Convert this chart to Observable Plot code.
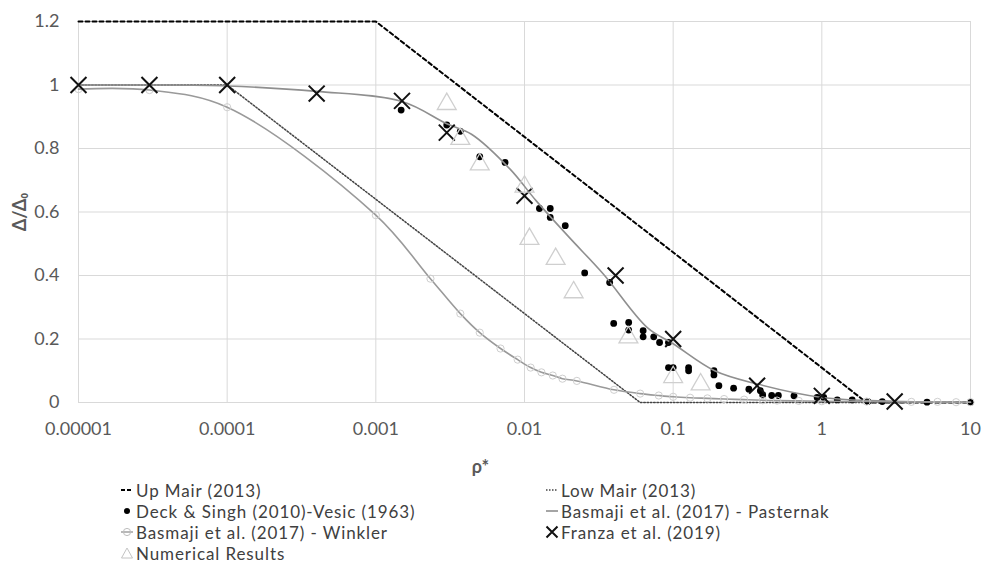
<!DOCTYPE html>
<html><head><meta charset="utf-8">
<script src="https://cdn.jsdelivr.net/npm/d3@7"></script>
<script src="https://cdn.jsdelivr.net/npm/@observablehq/plot@0.6"></script>
<style>
body{margin:0;background:#fff;font-family:Lato,"Open Sans",sans-serif;}
#wrap{position:relative;width:984px;height:576px;overflow:hidden;}
.item{position:absolute;display:flex;align-items:center;font-size:17px;letter-spacing:0.9px;color:#404040;white-space:nowrap;height:21px;}
.item svg{display:block;margin-right:2px;}
.item span{display:block;line-height:21px;height:21px;}
</style></head><body><div id="wrap"></div>
<script>
// ---- axis ticks ----
const xTickValues = [0.00001, 0.0001, 0.001, 0.01, 0.1, 1, 10];
const xTickLabels = ["0.00001", "0.0001", "0.001", "0.01", "0.1", "1", "10"];
const yTickValues = [0, 0.2, 0.4, 0.6, 0.8, 1, 1.2];
const yTickLabels = ["0", "0.2", "0.4", "0.6", "0.8", "1", "1.2"];

// ---- Up Mair (2013) ----
const upMairX = [0.00001, 0.001, 2, 10];
const upMairY = [1.2, 1.2, 0, 0];
// ---- Low Mair (2013) ----
const lowMairX = [0.00001, 0.0001, 0.06, 10];
const lowMairY = [1, 1, 0, 0];
// ---- Deck & Singh (2010)-Vesic (1963) ----
const deckX = [0.00148, 0.0030, 0.0037, 0.0050, 0.0074, 0.0126, 0.0149, 0.0149, 0.0188, 0.0254,
  0.0374, 0.0398, 0.0502, 0.0502, 0.0628, 0.0628, 0.074, 0.081, 0.093, 0.093,
  0.100, 0.127, 0.127, 0.188, 0.188, 0.203, 0.255, 0.323, 0.386, 0.40,
  0.46, 0.51, 0.65, 0.93, 1.03, 1.27, 1.6, 2.04, 2.55, 5.1, 10];
const deckY = [0.921, 0.874, 0.854, 0.774, 0.756, 0.611, 0.611, 0.583, 0.557, 0.408,
  0.378, 0.249, 0.252, 0.228, 0.226, 0.207, 0.207, 0.189, 0.189, 0.11,
  0.11, 0.11, 0.10, 0.10, 0.087, 0.053, 0.045, 0.042, 0.037, 0.024,
  0.022, 0.022, 0.021, 0.016, 0.016, 0.008, 0.008, 0.003, 0.003, 0.001, 0.001];
// ---- Basmaji et al. (2017) - Pasternak ----
const pasternakX = [0.00001, 0.00003, 0.0001, 0.0004, 0.0015, 0.003, 0.0044, 0.008, 0.012, 0.02,
  0.034, 0.067, 0.1, 0.19, 0.37, 1, 3, 10];
const pasternakY = [1, 1, 0.997, 0.98, 0.948, 0.878, 0.845, 0.735, 0.635, 0.52,
  0.404, 0.236, 0.185, 0.1, 0.058, 0.016, 0.004, 0.001];
// ---- Basmaji et al. (2017) - Winkler ----
const winklerX = [0.00001, 0.00003, 0.0001, 0.001, 0.00233, 0.0037, 0.005, 0.0069, 0.009, 0.011,
  0.013, 0.0155, 0.018, 0.0225, 0.04, 0.06, 0.08, 0.1, 0.13, 0.17,
  0.22, 0.3, 0.4, 0.5, 0.7, 1, 2, 4, 6, 8, 10];
const winklerY = [0.987, 0.984, 0.93, 0.59, 0.39, 0.28, 0.22, 0.17, 0.135, 0.11,
  0.095, 0.085, 0.075, 0.068, 0.04, 0.028, 0.022, 0.018, 0.015, 0.013,
  0.011, 0.009, 0.007, 0.006, 0.005, 0.004, 0.003, 0.002, 0.002, 0.001, 0.001];
// ---- Franza et al. (2019) ----
const franzaX = [0.00001, 0.00003, 0.0001, 0.0004, 0.0015, 0.003, 0.01, 0.041, 0.1, 0.367, 1, 3.09];
const franzaY = [1, 1, 1, 0.973, 0.95, 0.85, 0.651, 0.40, 0.20, 0.053, 0.021, 0.003];
// ---- Numerical Results ----
const numX = [0.0030, 0.0037, 0.0050, 0.010, 0.0108, 0.0162, 0.0214, 0.050, 0.10, 0.153];
const numY = [0.94, 0.83, 0.75, 0.68, 0.515, 0.452, 0.347, 0.205, 0.08, 0.057];

const pts = (xs, ys) => xs.map((x, i) => ({x, y: ys[i]}));

const W = 984, H = 476;
const chart = Plot.plot({
  width: W, height: H,
  marginLeft: 78, marginRight: 14, marginTop: 21, marginBottom: H - 402,
  style: {fontFamily: "Lato, 'Open Sans', sans-serif", fontSize: "18px", color: "#595959", background: "#fff", overflow: "visible"},
  x: {type: "log", domain: [0.00001, 10], axis: null},
  y: {domain: [0, 1.2], axis: null},
  marks: [
    Plot.gridX(xTickValues, {stroke: "#d9d9d9", strokeOpacity: 1, strokeWidth: 1}),
    Plot.gridY(yTickValues, {stroke: "#d9d9d9", strokeOpacity: 1, strokeWidth: 1}),
    Plot.axisX(xTickValues, {anchor: "bottom", tickSize: 0, tickPadding: 20, fill: "#595959",
      tickFormat: d => xTickLabels[xTickValues.indexOf(d)], label: null}),
    Plot.axisY(yTickValues, {anchor: "left", tickSize: 0, tickPadding: 19, fill: "#595959",
      tickFormat: d => yTickLabels[yTickValues.indexOf(d)], label: null}),
    Plot.line(pts(upMairX, upMairY), {x: "x", y: "y", stroke: "#000", strokeWidth: 2, strokeDasharray: "4,3"}),
    Plot.line(pts(lowMairX, lowMairY), {x: "x", y: "y", stroke: "#444", strokeWidth: 1.5, strokeDasharray: "1.5,1.8"}),
    Plot.dot(pts(deckX, deckY), {x: "x", y: "y", r: 3.4, fill: "#000", stroke: "none"}),
    Plot.line(pts(pasternakX, pasternakY), {x: "x", y: "y", curve: "catmull-rom", stroke: "#8f8f8f", strokeWidth: 1.6}),
    Plot.line(pts(winklerX, winklerY), {x: "x", y: "y", curve: "catmull-rom", stroke: "#9a9a9a", strokeWidth: 1.6}),
    Plot.dot(pts(winklerX, winklerY), {x: "x", y: "y", r: 3.6, fill: "none", stroke: "#cfcfcf", strokeWidth: 1}),
    Plot.dot(pts(franzaX, franzaY), {x: "x", y: "y", symbol: "times", r: 7.3, stroke: "#111", strokeWidth: 2}),
    Plot.dot(pts(numX, numY), {x: "x", y: "y", symbol: "triangle2", r: 9, fill: "none", stroke: "#cfcfcf", strokeWidth: 1.3}),
    Plot.text(["Δ/Δ₀"], {frameAnchor: "left", dx: -58, rotate: -90, fontWeight: "bold", fontSize: 18, fill: "#595959", textAnchor: "middle", lineAnchor: "middle"}),
    Plot.text(["ρ*"], {frameAnchor: "bottom", dx: -44, dy: 65, fontWeight: "bold", fontSize: 18, fill: "#595959", textAnchor: "middle", lineAnchor: "middle"})
  ]
});
const wrap = document.getElementById("wrap");
wrap.appendChild(chart);

// ---- legend (HTML below the plot) ----
const legendNames = ["Up Mair (2013)", "Low Mair (2013)", "Deck & Singh (2010)-Vesic (1963)",
  "Basmaji et al. (2017) - Pasternak", "Basmaji et al. (2017) - Winkler", "Franza et al. (2019)", "Numerical Results"];
const legendIcons = [
  '<line x1="1" y1="7" x2="13" y2="7" stroke="#000" stroke-width="2" stroke-dasharray="4,2"/>',
  '<line x1="1" y1="7" x2="13" y2="7" stroke="#444" stroke-width="1.5" stroke-dasharray="1.5,1.5"/>',
  '<circle cx="7" cy="7" r="3" fill="#000"/>',
  '<line x1="1" y1="7" x2="13" y2="7" stroke="#8f8f8f" stroke-width="1.6"/>',
  '<line x1="1" y1="7" x2="13" y2="7" stroke="#9a9a9a" stroke-width="1.4"/><circle cx="7" cy="7" r="3.6" fill="none" stroke="#bdbdbd" stroke-width="1"/>',
  '<path d="M1.5 1.5L12.5 12.5M12.5 1.5L1.5 12.5" stroke="#111" stroke-width="2"/>',
  '<path d="M7 2L12.5 12L1.5 12Z" fill="none" stroke="#c4c4c4" stroke-width="1"/>'
];
const colLeft = [120, 545];
const rowTop = [479.5, 500.5, 521.5, 542.5];
legendNames.forEach((name, i) => {
  const div = document.createElement("div");
  div.className = "item";
  div.style.left = colLeft[i % 2] + "px";
  div.style.top = rowTop[Math.floor(i / 2)] + "px";
  div.innerHTML = '<svg width="14" height="14">' + legendIcons[i] + '</svg><span></span>';
  div.querySelector("span").textContent = name;
  wrap.appendChild(div);
});
</script></body></html>
